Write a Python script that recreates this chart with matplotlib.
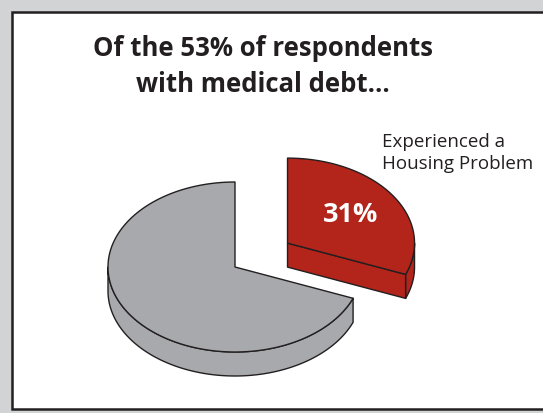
import numpy as np
import matplotlib.pyplot as plt
from matplotlib.patches import Polygon, Rectangle

# Shares of respondents with medical debt
shares = [31, 69]
slice_names = ['Experienced a\nHousing Problem', 'Other']
slice_colors = ['#b3241a', '#a7a9ac']
explode = [0.5, 0.0]

title = 'Of the 53% of respondents\nwith medical debt...'

# pie geometry in pixel units (y grows downwards)
cx, cy = 235, 267
ra, rb = 127, 85
depth = 24
edge = '#231f20'

fig = plt.figure(figsize=(5.43, 4.13), dpi=100)
ax = fig.add_axes([0, 0, 1, 1])
ax.set_xlim(0, 543)
ax.set_ylim(413, 0)
ax.axis('off')

# frame
fig.patch.set_facecolor('#d1d3d4')
ax.add_patch(Rectangle((12, 11.5), 560, 397.5, facecolor='white',
                       edgecolor=edge, lw=1.8, zorder=0))


def pt(t, ox, oy, dz=0.0):
    return ox + ra * np.cos(t), oy - rb * np.sin(t) + dz


def draw_slice(t0, t1, ox, oy, color):
    # t0 -> t1 counterclockwise, radians
    # visible curved wall: front half of the ellipse
    lo, hi = max(t0, np.pi), min(t1, 2 * np.pi)
    if t0 < 0:
        lo, hi = max(t0 + 2 * np.pi, np.pi), 2 * np.pi
    if hi > lo:
        ts = np.linspace(lo, hi, 120)
        top = np.column_stack(pt(ts, ox, oy))
        bot = np.column_stack(pt(ts[::-1], ox, oy, depth))
        ax.add_patch(Polygon(np.vstack([top, bot]), closed=True, fc=color,
                             ec=edge, lw=1.0, joinstyle='round', zorder=2))
    # flat cut faces that point toward the viewer
    for t, vis in ((t0, np.cos(t0) > 1e-6), (t1, np.cos(t1) < -1e-6)):
        if vis:
            x1, y1 = pt(t, ox, oy)
            face = [(ox, oy), (x1, y1), (x1, y1 + depth), (ox, oy + depth)]
            ax.add_patch(Polygon(face, closed=True, fc=color, ec=edge,
                                 lw=1.0, joinstyle='round', zorder=2))
    # top face
    ts = np.linspace(t0, t1, 200)
    xs, ys = pt(ts, ox, oy)
    verts = np.vstack([[ox, oy], np.column_stack([xs, ys])])
    ax.add_patch(Polygon(verts, closed=True, fc=color, ec=edge, lw=1.0,
                         joinstyle='round', zorder=3))


fracs = np.array(shares) / np.sum(shares)
start = np.pi / 2
centers = []
for frac, col, ex in zip(fracs, slice_colors, explode):
    t1 = start
    t0 = start - frac * 2 * np.pi
    mid = (t0 + t1) / 2
    ox = cx + ex * ra * np.cos(mid)
    oy = cy - ex * rb * np.sin(mid)
    if t0 < -np.pi:
        t0 += 2 * np.pi
        t1 += 2 * np.pi
    if t1 < t0:
        t0, t1 = t1, t0
    draw_slice(t0, t1, ox, oy, col)
    centers.append((ox, oy, mid))
    start = start - frac * 2 * np.pi

# value label on the exploded slice
ox, oy, mid = centers[0]
ax.text(ox + 0.60 * ra * np.cos(mid), oy - 0.58 * rb * np.sin(mid),
        f'{shares[0]}%', color='white', fontsize=19.5, fontweight='bold',
        family='Open Sans', ha='center', va='center', zorder=5)

ax.text(382, 133, slice_names[0], color=edge, fontsize=13.5,
        family='Open Sans', ha='left', va='top', linespacing=1.28, zorder=5)

ax.text(263, 35, title, color=edge, fontsize=18.5, fontweight='bold',
        family='Open Sans', ha='center', va='top', linespacing=1.45, zorder=5)

fig.savefig('out.png', dpi=100, facecolor=fig.get_facecolor())
